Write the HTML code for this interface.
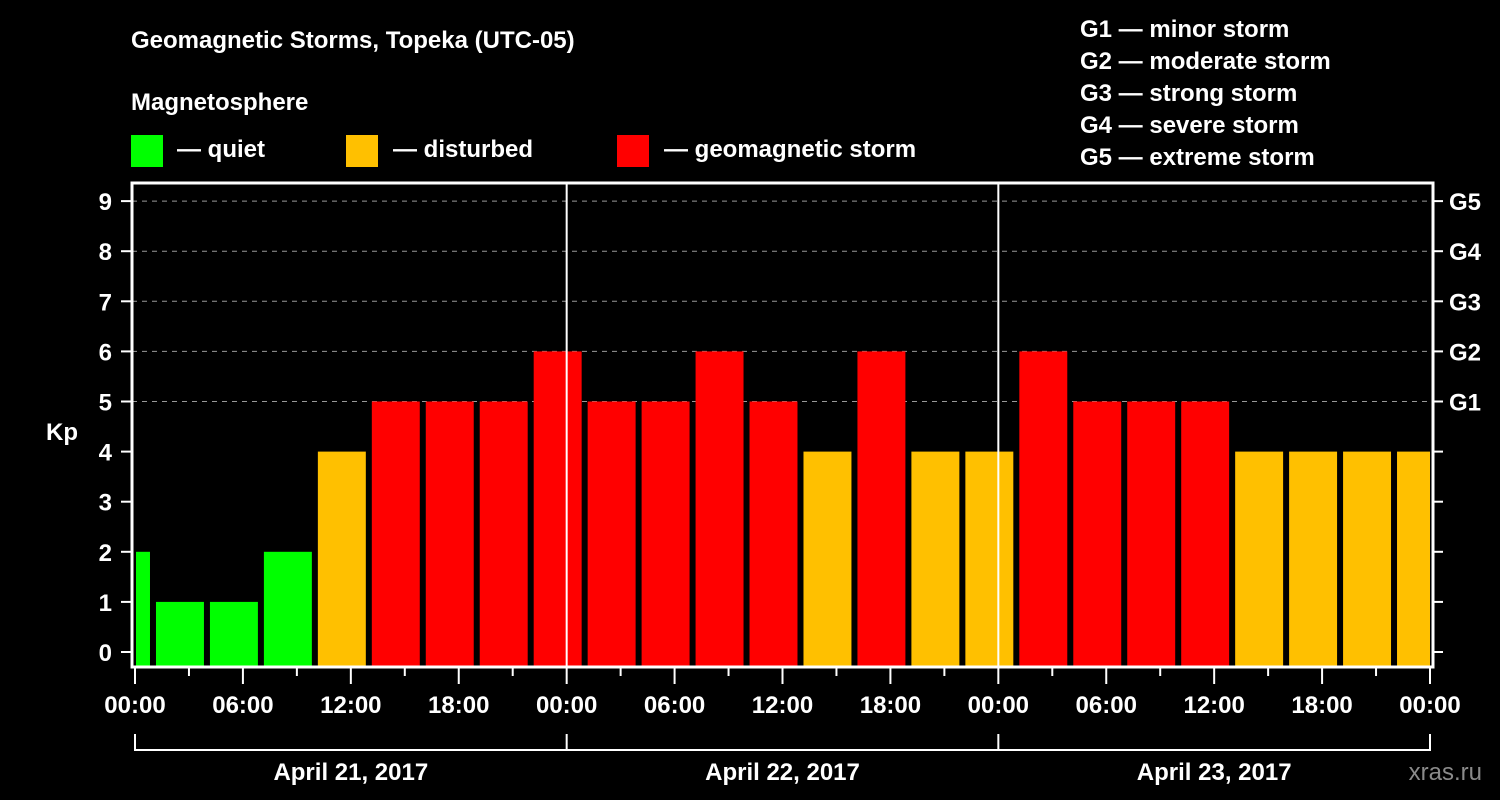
<!DOCTYPE html>
<html><head><meta charset="utf-8">
<style>
html,body{margin:0;padding:0;background:#000;width:1500px;height:800px;overflow:hidden}
svg text{font-family:"Liberation Sans",Arial,sans-serif;font-weight:bold;fill:#fff}
</style></head>
<body>
<svg id="chart" width="1500" height="800" viewBox="0 0 1500 800" xmlns="http://www.w3.org/2000/svg">
<rect width="1500" height="800" fill="#000"/>
<text x="131" y="48" font-size="24">Geomagnetic Storms, Topeka (UTC-05)</text>
<text x="131" y="110" font-size="24">Magnetosphere</text>
<g>
<rect x="131" y="135" width="32" height="32" fill="#00ff00"/>
<text x="177" y="157" font-size="24">— quiet</text>
<rect x="346" y="135" width="32" height="32" fill="#ffc000"/>
<text x="393" y="157" font-size="24">— disturbed</text>
<rect x="617" y="135" width="32" height="32" fill="#ff0000"/>
<text x="664" y="157" font-size="24">— geomagnetic storm</text>
</g>
<g font-size="24">
<text x="1080" y="37">G1 — minor storm</text>
<text x="1080" y="69">G2 — moderate storm</text>
<text x="1080" y="101">G3 — strong storm</text>
<text x="1080" y="133">G4 — severe storm</text>
<text x="1080" y="165">G5 — extreme storm</text>
</g>
<text x="62" y="440" font-size="24" text-anchor="middle">Kp</text>
<text x="1482" y="780" font-size="24" fill="#8a8a8a" style="fill:#8a8a8a;font-weight:normal" text-anchor="end">xras.ru</text>
<g id="plot"></g>
</svg>
<script>
const kpValues=[2,1,1,2,4,5,5,5,6,5,5,6,5,4,6,4,4,6,5,5,5,4,4,4,4];
const yTicks=[0,1,2,3,4,5,6,7,8,9];
const gLabels=["G1","G2","G3","G4","G5"];
const gLevels=[5,6,7,8,9];
const xTickLabels=["00:00","06:00","12:00","18:00","00:00","06:00","12:00","18:00","00:00","06:00","12:00","18:00","00:00"];
const dayLabels=["April 21, 2017","April 22, 2017","April 23, 2017"];
const firstBarHour=-2; // local hour of first bar start relative to 00:00 day 1

const X0=135,X1=1430,HOURS=72;
const xs=h=>X0+(h/HOURS)*(X1-X0);
const Y0=652,PER=50.1;
const ys=v=>Y0-v*PER;
const ns="http://www.w3.org/2000/svg";
const g=document.getElementById('plot');
function mk(t,a){const e=document.createElementNS(ns,t);for(const k in a)e.setAttribute(k,a[k]);g.appendChild(e);return e;}
const colorFor=v=>v>=5?"#ff0000":(v>=4?"#ffc000":"#00ff00");
const BOTTOM=667,LEFT=132,RIGHT=1433,TOP=183;

// gridlines
yTicks.forEach(v=>{if(v<5)return;
 const l=mk('line',{x1:LEFT,x2:RIGHT,y1:ys(v),y2:ys(v),stroke:'#999','stroke-width':1,'stroke-dasharray':'5,5'});
 
 
});
// bars
kpValues.forEach((v,i)=>{
 let s=xs(firstBarHour+i*3)+3,e=xs(firstBarHour+i*3+3)-3;
 if(s<X0+1)s=X0+1; if(e>X1)e=X1;
 const r=mk('rect',{x:s,y:ys(v),width:e-s,height:BOTTOM-ys(v),fill:colorFor(v)});
 
 
});
// day separators
[24,48].forEach(h=>{
 const l=mk('line',{x1:xs(h),x2:xs(h),y1:TOP,y2:BOTTOM,stroke:'#fff','stroke-width':2});
 
 
});
// frame
const fr=mk('rect',{x:LEFT,y:TOP,width:RIGHT-LEFT,height:BOTTOM-TOP,fill:'none',stroke:'#fff','stroke-width':3});


// y ticks
yTicks.forEach(v=>{
 const l=mk('line',{x1:LEFT-11,x2:LEFT,y1:ys(v),y2:ys(v),stroke:'#fff','stroke-width':2});
 
 
 const r=mk('line',{x1:RIGHT,x2:RIGHT+10,y1:ys(v),y2:ys(v),stroke:'#fff','stroke-width':2});
 
 
 const t=mk('text',{x:112,y:ys(v)+9,'font-size':24,'text-anchor':'end'});
 t.textContent=v;
 
 
});
gLabels.forEach((lab,i)=>{
 const t=mk('text',{x:1449,y:ys(gLevels[i])+9,'font-size':24});
 t.textContent=lab;
 
 
});
// x ticks
for(let h=0;h<=HOURS;h+=3){
 const major=h%6===0;
 const l=mk('line',{x1:xs(h),x2:xs(h),y1:BOTTOM,y2:BOTTOM+(major?17:9),stroke:'#fff','stroke-width':2});
 
 
}
xTickLabels.forEach((lab,i)=>{
 const t=mk('text',{x:xs(i*6),y:713,'font-size':24,'text-anchor':'middle'});
 t.textContent=lab;
 
 
});
// day bracket
const br=mk('line',{x1:xs(0),x2:xs(72),y1:750,y2:750,stroke:'#fff','stroke-width':2});


[0,24,48,72].forEach(h=>{
 const l=mk('line',{x1:xs(h),x2:xs(h),y1:734,y2:751,stroke:'#fff','stroke-width':2});
 
 
});
dayLabels.forEach((lab,i)=>{
 const t=mk('text',{x:xs(i*24+12),y:780,'font-size':24,'text-anchor':'middle'});
 t.textContent=lab;
 
 
});
</script>
</body></html>
